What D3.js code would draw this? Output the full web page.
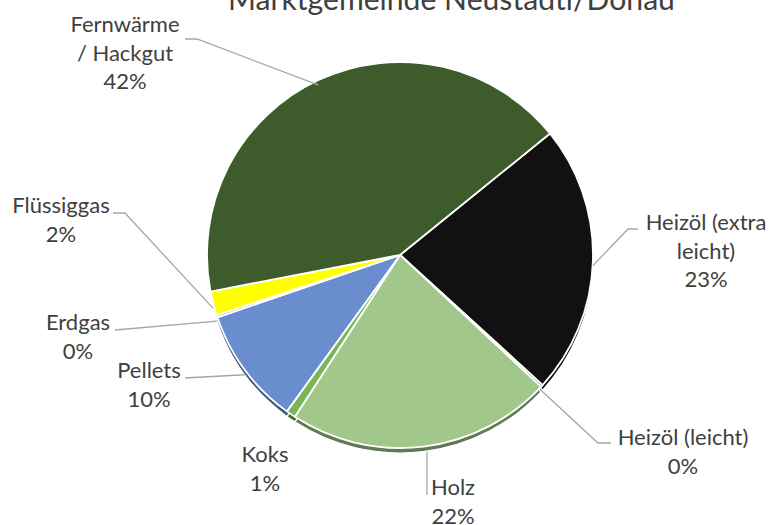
<!DOCTYPE html>
<html>
<head>
<meta charset="utf-8">
<script src="https://cdn.jsdelivr.net/npm/d3@7"></script>
<style>
  html, body { margin: 0; padding: 0; background: #ffffff; }
  svg { display: block; }
  text { font-family: Lato, "Open Sans", sans-serif; }
</style>
</head>
<body>
<svg id="chart" width="783" height="525"></svg>
<script>
// ---- data ----
const title = "Marktgemeinde Neustadtl/Donau";
const categories = ["Heizöl (extra leicht)", "Heizöl (leicht)", "Holz", "Koks", "Pellets", "Erdgas", "Flüssiggas", "Fernwärme / Hackgut"];
const values = [22.6, 0.2, 22.2, 0.8, 9.8, 0.2, 2.0, 42.2];
const colors = ["#111111", "#8C8C8C", "#A1C88A", "#7BB55A", "#6A8DCD", "#A5A5A5", "#FFFF00", "#3E5B2B"];
const labelLines = [["Heizöl (extra", "leicht)"], ["Heizöl (leicht)"], ["Holz"], ["Koks"], ["Pellets"], ["Erdgas"], ["Flüssiggas"], ["Fernwärme", "/ Hackgut"]];

// ---- layout ----
const W = 783, H = 525;
const cx = 400, cy = 255, R = 193;
const startDeg = 51;
const shadowDy = 5;
const labelLayout = [
  { x: 706, y: 230, sx: 638, sy: 229, ex: 628, ey: 229 },
  { x: 683, y: 445, sx: 611, sy: 443, ex: 598, ey: 443 },
  { x: 453, y: 495, sx: 427, sy: 495, ex: 427, ey: 495, vertical: true },
  { x: 265, y: 462, none: true },
  { x: 149, y: 378, sx: 185, sy: 378, ex: 185, ey: 378 },
  { x: 78,  y: 330, sx: 115, sy: 330, ex: 115, ey: 330 },
  { x: 61,  y: 213, sx: 113, sy: 213, ex: 125, ey: 213 },
  { x: 125, y: 32,  sx: 185, sy: 39,  ex: 197, ey: 39 }
];
const lineH = 28.7;

const svg = d3.select("#chart");
const data = categories.map((c, i) => ({ cat: c, value: values[i], color: colors[i], lines: labelLines[i], lay: labelLayout[i] }));
const total = d3.sum(values);

const startA = startDeg * Math.PI / 180;
const pie = d3.pie().sort(null).value(d => d.value).startAngle(startA).endAngle(startA + 2 * Math.PI);
const arcs = pie(data);
const arc = d3.arc().innerRadius(0).outerRadius(R);

// shadow (3D-like bottom edge)
const gs = svg.append("g").attr("transform", `translate(${cx},${cy + shadowDy})`);
gs.selectAll("path").data(arcs).join("path")
  .attr("d", arc)
  .attr("fill", d => d3.color(d.data.color).darker(1.4))
  .attr("stroke", "#ffffff").attr("stroke-width", 1.2);

// slices
const g = svg.append("g").attr("transform", `translate(${cx},${cy})`);
g.selectAll("path").data(arcs).join("path")
  .attr("d", arc)
  .attr("fill", d => d.data.color)
  .attr("stroke", "#ffffff").attr("stroke-width", 1.8)
  .attr("stroke-linejoin", "round");

// leader lines
arcs.forEach(a => {
  const L = a.data.lay;
  if (L.none) return;
  const mid = (a.startAngle + a.endAngle) / 2;
  const px = cx + R * Math.sin(mid);
  const py = cy + shadowDy - R * Math.cos(mid);
  const pts = L.vertical ? [[L.sx, L.sy], [L.sx, py]] : [[L.sx, L.sy], [L.ex, L.ey], [px, py]];
  svg.append("path")
    .attr("d", d3.line()(pts))
    .attr("fill", "none")
    .attr("stroke", "#A6A6A6")
    .attr("stroke-width", 1.3);
});

// labels
const fmt = v => Math.round(v / total * 100) + "%";
const labelSize = 22;
arcs.forEach(a => {
  const L = a.data.lay;
  const t = svg.append("text")
    .attr("text-anchor", "middle")
    .attr("font-size", labelSize)
    .attr("fill", "#404040");
  const lines = a.data.lines.concat([fmt(a.data.value)]);
  lines.forEach((s, i) => {
    t.append("tspan").attr("x", L.x).attr("y", L.y + i * lineH).text(s);
  });
});

// title
const tt = svg.append("text")
  .attr("x", 228).attr("y", 10)
  .attr("text-anchor", "start")
  .attr("font-size", 30)
  .attr("fill", "#404040")
  .text(title);
// fit title width to reference extent
const tw = tt.node().getComputedTextLength();
tt.attr("font-size", 30 * 447 / tw);
</script>
</body>
</html>
